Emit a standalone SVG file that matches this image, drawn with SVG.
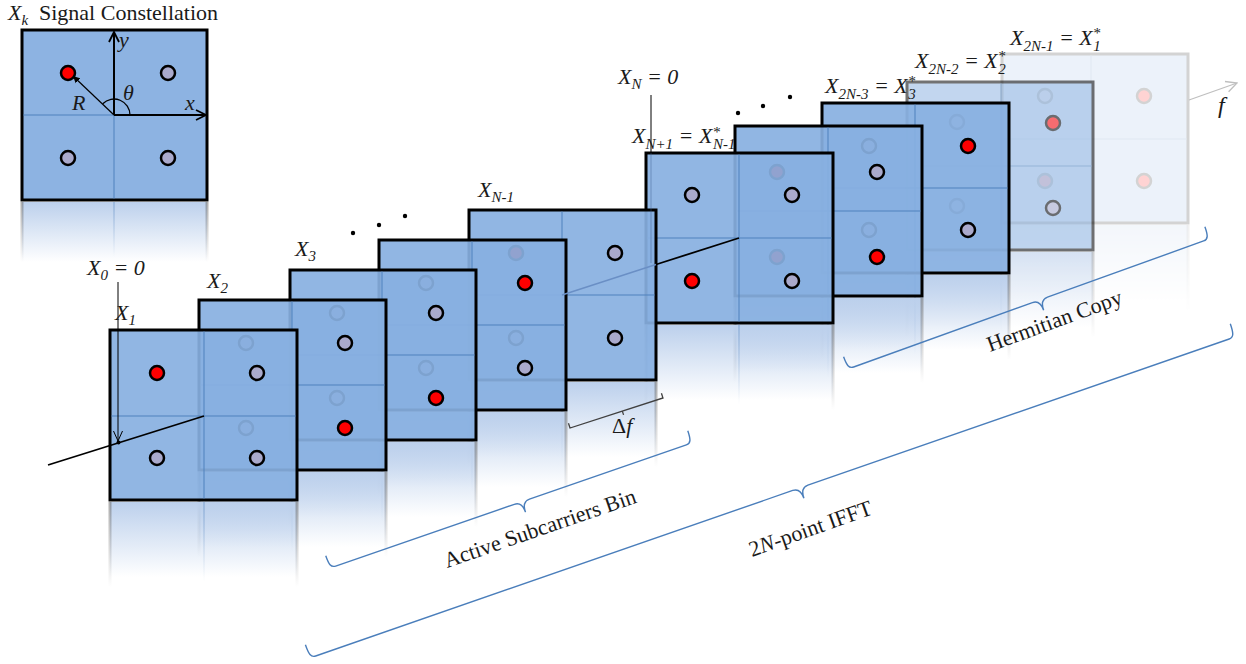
<svg xmlns="http://www.w3.org/2000/svg" width="1246" height="664" viewBox="0 0 1246 664">
<style>
.pf{fill:#88B0E1;fill-opacity:.92;stroke:#000;stroke-width:3}
.cf{fill:#8DB3E2;stroke:#000;stroke-width:3}
.dv{fill:none;stroke:#4F81BD;stroke-width:1}
.dr{fill:#FF0000;stroke:#000;stroke-width:2.5}
.dg{fill:#AAAACC;stroke:#000;stroke-width:2.5}
.rf{fill:url(#gR)}
.rl{fill:url(#gL)}
.rb{fill:url(#gB)}
.lbl{font-family:"Liberation Serif","Times New Roman",serif;font-size:22px;font-style:italic;fill:#1A1A1A}
.s{font-size:15px}
.up{font-style:normal}
.br{fill:none;stroke:#4A7EBB;stroke-width:1.4}
.ax{fill:none;stroke:#000}
</style>
<defs>
<linearGradient id="gR" x1="0" y1="0" x2="0" y2="1">
<stop offset="0" stop-color="#BCD0EC"/>
<stop offset="1" stop-color="#BCD0EC" stop-opacity="0"/>
</linearGradient>
<linearGradient id="gL" x1="0" y1="0" x2="0" y2="1">
<stop offset="0" stop-color="#777" stop-opacity=".6"/>
<stop offset="1" stop-color="#777" stop-opacity="0"/>
</linearGradient>
<linearGradient id="gB" x1="0" y1="0" x2="0" y2="1">
<stop offset="0" stop-color="#4F81BD" stop-opacity=".6"/>
<stop offset="1" stop-color="#4F81BD" stop-opacity="0"/>
</linearGradient>
<marker id="ahL" viewBox="0 0 12 12" refX="11" refY="6" markerWidth="12" markerHeight="12" markerUnits="userSpaceOnUse" orient="auto"><path d="M1,1 L11,6 L1,11" fill="none" stroke="#000" stroke-width="1.8"/></marker>
<marker id="ahT" viewBox="0 0 12 12" refX="11" refY="6" markerWidth="12" markerHeight="12" markerUnits="userSpaceOnUse" orient="auto"><path d="M1,1.5 L11,6 L1,10.5" fill="none" stroke="#000" stroke-width="1"/></marker>
<marker id="ahS" viewBox="0 0 8 8" refX="7" refY="4" markerWidth="8" markerHeight="8" markerUnits="userSpaceOnUse" orient="auto"><path d="M0,0.5 L7,4 L0,7.5 Z" fill="#000"/></marker>
<marker id="ahG" viewBox="0 0 12 12" refX="11" refY="6" markerWidth="13" markerHeight="13" markerUnits="userSpaceOnUse" orient="auto"><path d="M1,1 L11,6 L1,11" fill="none" stroke="#BFBFBF" stroke-width="1.2"/></marker>
</defs>

<rect width="1246" height="664" fill="#FFFFFF"/>

<g id="constellation" transform="translate(22,30)">
<rect class="rf" x="0" y="172" width="185" height="60"/>
<rect class="rl" x="-1.5" y="172" width="3" height="60"/>
<rect class="rl" x="183.5" y="172" width="3" height="60"/>
<rect class="rb" x="91.5" y="172" width="1" height="55"/>
<rect class="cf" width="185" height="170"/>
<path class="dv" d="M92,85V168.5M1.5,85H92"/>
<path class="ax" stroke-width="2" d="M92,85V2" marker-end="url(#ahL)"/>
<path class="ax" stroke-width="2" d="M92,85H184" marker-end="url(#ahL)"/>
<path class="ax" stroke-width="1.2" d="M92,85L51,46" marker-end="url(#ahS)"/>
<path class="ax" stroke-width="1.3" d="M108,85A16,16 0 0 0 80.7,73.7"/>
<circle class="dr" cx="46" cy="43" r="7"/>
<circle class="dg" cx="146" cy="43" r="7"/>
<circle class="dg" cx="46" cy="128" r="7"/>
<circle class="dg" cx="146" cy="128" r="7"/>
</g>

<g id="panels">
<g id="panel-x2n-1" transform="translate(1002,54)" opacity="0.17">
<rect class="rf" x="0" y="171" width="186" height="75"/>
<rect class="rl" x="-1.5" y="171" width="3" height="85"/>
<rect class="rl" x="184.5" y="171" width="3" height="85"/>
<rect class="rb" x="88.5" y="171" width="1" height="80"/>
<rect class="pf" width="186" height="169"/>
<path class="dv" d="M89,1.5V167.5M1.5,85H184.5"/>
<circle class="dg" cx="43" cy="42" r="7"/>
<circle class="dr" cx="142" cy="42" r="7"/>
<circle class="dr" cx="43" cy="127" r="7"/>
<circle class="dr" cx="142" cy="127" r="7"/>
</g>
<g id="panel-x2n-2" transform="translate(907,82)" opacity="0.55">
<rect class="rf" x="0" y="170" width="186" height="75"/>
<rect class="rl" x="-1.5" y="170" width="3" height="85"/>
<rect class="rl" x="184.5" y="170" width="3" height="85"/>
<rect class="rb" x="93.5" y="170" width="1" height="80"/>
<rect class="pf" width="186" height="168"/>
<path class="dv" d="M94,1.5V166.5M1.5,84H184.5"/>
<circle class="dg" cx="50" cy="40" r="7"/>
<circle class="dr" cx="146" cy="41" r="7"/>
<circle class="dg" cx="50" cy="124" r="7"/>
<circle class="dg" cx="146" cy="126" r="7"/>
</g>
<g id="panel-x2n-3" transform="translate(822,103)">
<rect class="rf" x="0" y="172" width="187" height="75"/>
<rect class="rl" x="-1.5" y="172" width="3" height="85"/>
<rect class="rl" x="185.5" y="172" width="3" height="85"/>
<rect class="rb" x="92.5" y="172" width="1" height="80"/>
<rect class="pf" width="187" height="170"/>
<path class="dv" d="M93,1.5V168.5M1.5,85H185.5"/>
<circle class="dg" cx="47" cy="43" r="7"/>
<circle class="dr" cx="146" cy="43" r="7"/>
<circle class="dg" cx="47" cy="127" r="7"/>
<circle class="dg" cx="146" cy="127" r="7"/>
</g>
<g id="panel-p7" transform="translate(735,126)">
<rect class="rf" x="0" y="172" width="187" height="75"/>
<rect class="rl" x="-1.5" y="172" width="3" height="85"/>
<rect class="rl" x="185.5" y="172" width="3" height="85"/>
<rect class="rb" x="92.5" y="172" width="1" height="80"/>
<rect class="pf" width="187" height="170"/>
<path class="dv" d="M93,1.5V168.5M1.5,85H185.5"/>
<circle class="dr" cx="42" cy="46" r="7"/>
<circle class="dg" cx="142" cy="46" r="7"/>
<circle class="dr" cx="42" cy="131" r="7"/>
<circle class="dr" cx="142" cy="131" r="7"/>
</g>
<g id="panel-xn+1" transform="translate(646,153)">
<rect class="rf" x="0" y="172" width="187" height="75"/>
<rect class="rl" x="-1.5" y="172" width="3" height="85"/>
<rect class="rl" x="185.5" y="172" width="3" height="85"/>
<rect class="rb" x="92.5" y="172" width="1" height="80"/>
<rect class="pf" width="187" height="170"/>
<path class="dv" d="M93,1.5V168.5M1.5,85H185.5"/>
<circle class="dg" cx="46" cy="42" r="7"/>
<circle class="dg" cx="146" cy="42" r="7"/>
<circle class="dr" cx="46" cy="128" r="7"/>
<circle class="dg" cx="146" cy="128" r="7"/>
</g>
<g id="panel-xn-1" transform="translate(469,210)">
<rect class="rf" x="0" y="172" width="187" height="75"/>
<rect class="rl" x="-1.5" y="172" width="3" height="85"/>
<rect class="rl" x="185.5" y="172" width="3" height="85"/>
<rect class="rb" x="92.5" y="172" width="1" height="80"/>
<rect class="pf" width="187" height="170"/>
<path class="dv" d="M93,1.5V168.5M1.5,85H185.5"/>
<circle class="dr" cx="47" cy="43" r="7"/>
<circle class="dg" cx="146" cy="43" r="7"/>
<circle class="dg" cx="47" cy="128" r="7"/>
<circle class="dg" cx="146" cy="128" r="7"/>
</g>
<g id="panel-p4" transform="translate(379,240)">
<rect class="rf" x="0" y="172" width="187" height="75"/>
<rect class="rl" x="-1.5" y="172" width="3" height="85"/>
<rect class="rl" x="185.5" y="172" width="3" height="85"/>
<rect class="rb" x="92.5" y="172" width="1" height="80"/>
<rect class="pf" width="187" height="170"/>
<path class="dv" d="M93,1.5V168.5M1.5,85H185.5"/>
<circle class="dg" cx="47" cy="43" r="7"/>
<circle class="dr" cx="146" cy="43" r="7"/>
<circle class="dg" cx="47" cy="128" r="7"/>
<circle class="dg" cx="146" cy="128" r="7"/>
</g>
<g id="panel-x3" transform="translate(290,270)">
<rect class="rf" x="0" y="172" width="186" height="75"/>
<rect class="rl" x="-1.5" y="172" width="3" height="85"/>
<rect class="rl" x="184.5" y="172" width="3" height="85"/>
<rect class="rb" x="91.5" y="172" width="1" height="80"/>
<rect class="pf" width="186" height="170"/>
<path class="dv" d="M92,1.5V168.5M1.5,85H184.5"/>
<circle class="dg" cx="47" cy="43" r="7"/>
<circle class="dg" cx="146" cy="43" r="7"/>
<circle class="dg" cx="47" cy="128" r="7"/>
<circle class="dr" cx="146" cy="128" r="7"/>
</g>
<g id="panel-x2" transform="translate(199,300)">
<rect class="rf" x="0" y="172" width="187" height="75"/>
<rect class="rl" x="-1.5" y="172" width="3" height="85"/>
<rect class="rl" x="185.5" y="172" width="3" height="85"/>
<rect class="rb" x="92.5" y="172" width="1" height="80"/>
<rect class="pf" width="187" height="170"/>
<path class="dv" d="M93,1.5V168.5M1.5,85H185.5"/>
<circle class="dg" cx="47" cy="43" r="7"/>
<circle class="dg" cx="146" cy="43" r="7"/>
<circle class="dg" cx="47" cy="128" r="7"/>
<circle class="dr" cx="146" cy="128" r="7"/>
</g>
<g id="panel-x1" transform="translate(110,330)">
<rect class="rf" x="0" y="172" width="187" height="75"/>
<rect class="rl" x="-1.5" y="172" width="3" height="85"/>
<rect class="rl" x="185.5" y="172" width="3" height="85"/>
<rect class="rb" x="93.5" y="172" width="1" height="80"/>
<rect class="pf" width="187" height="170"/>
<path class="dv" d="M94,1.5V168.5M1.5,86H185.5"/>
<circle class="dr" cx="47" cy="43" r="7"/>
<circle class="dg" cx="147" cy="43" r="7"/>
<circle class="dg" cx="47" cy="128" r="7"/>
<circle class="dg" cx="147" cy="128" r="7"/>
</g>
</g>

<g id="connectors">
<path class="ax" stroke-width="1.8" d="M48,465L204,416"/>
<path fill="none" stroke="#6A8FC5" stroke-width="1.4" d="M562,295L656,264.5"/>
<path class="ax" stroke-width="1.8" d="M656,264.5L739,238"/>
<path class="ax" stroke-width="1" d="M118,282V441" marker-end="url(#ahT)"/>
<circle cx="118.5" cy="442.5" r="2" fill="#000"/>
<path class="ax" stroke-width="1" d="M651,95V153"/>
<path fill="none" stroke="#3E5F8F" stroke-opacity=".45" stroke-width="1" d="M651,153V263"/>
<path fill="none" stroke="#BFBFBF" stroke-width="1.2" d="M1189,100L1237,83" marker-end="url(#ahG)"/>
<g fill="#000">
<circle cx="353" cy="233" r="2.2"/><circle cx="379" cy="225" r="2.2"/><circle cx="405" cy="216" r="2.2"/>
<circle cx="738" cy="113" r="2.2"/><circle cx="763" cy="106" r="2.2"/><circle cx="790" cy="97" r="2.2"/>
</g>
<path fill="none" stroke="#404040" stroke-width="1.3" transform="translate(570,428) rotate(-17.9)" d="M0,-5V0H97.7V-5M55,0V4"/>
<path class="br" transform="translate(330,568) rotate(-19.05)" d="M0,-13C0,-4 1,0 6,0H195Q203,0 203,11Q203,0 211,0H377C382,0 383,-4 383,-13"/>
<path class="br" transform="translate(848,369) rotate(-19.8)" d="M0,-13C0,-4 1,0 6,0H196Q204,0 204,11Q204,0 212,0H378C383,0 384,-4 384,-13"/>
<path class="br" transform="translate(310,658) rotate(-19.14)" d="M0,-14C0,-4 1,0 6,0H511Q519,0 519,11Q519,0 527,0H973C978,0 979,-4 979,-14"/>
</g>

<g id="labels">
<text class="lbl" x="8" y="20">X<tspan class="s" dy="5">k</tspan></text>
<text class="lbl up" x="39" y="20">Signal Constellation</text>
<text class="lbl" x="119" y="47">y</text>
<text class="lbl" x="185" y="110">x</text>
<text class="lbl" x="72" y="110">R</text>
<text class="lbl" x="123" y="100">θ</text>
<text class="lbl" x="87" y="275">X<tspan class="s" dy="5">0</tspan><tspan dy="-5"> = 0</tspan></text>
<text class="lbl" x="115" y="320">X<tspan class="s" dy="5">1</tspan></text>
<text class="lbl" x="207" y="288">X<tspan class="s" dy="5">2</tspan></text>
<text class="lbl" x="295" y="256">X<tspan class="s" dy="5">3</tspan></text>
<text class="lbl" x="478" y="197">X<tspan class="s" dy="5">N-1</tspan></text>
<text class="lbl" x="618" y="84">X<tspan class="s" dy="5">N</tspan><tspan dy="-5"> = 0</tspan></text>
<text class="lbl" x="632" y="143">X<tspan class="s" dy="6">N+1</tspan><tspan dy="-6"> = X</tspan><tspan class="s" dy="-6">*</tspan><tspan class="s" dx="-7" dy="12">N-1</tspan></text>
<text class="lbl" x="825" y="93">X<tspan class="s" dy="6">2N-3</tspan><tspan dy="-6"> = X</tspan><tspan class="s" dy="-7">*</tspan><tspan class="s" dx="-7" dy="13">3</tspan></text>
<text class="lbl" x="915" y="68">X<tspan class="s" dy="6">2N-2</tspan><tspan dy="-6"> =  X</tspan><tspan class="s" dy="-7">*</tspan><tspan class="s" dx="-7" dy="13">2</tspan></text>
<text class="lbl" x="1010" y="45">X<tspan class="s" dy="6">2N-1</tspan><tspan dy="-6"> = X</tspan><tspan class="s" dy="-7">*</tspan><tspan class="s" dx="-7" dy="13">1</tspan></text>
<text class="lbl" x="1218" y="113" style="font-size:24px">f</text>
<text class="lbl" x="612" y="433"><tspan class="up">Δ</tspan>f</text>
<text class="lbl up" transform="translate(447,568) rotate(-19)">Active Subcarriers Bin</text>
<text class="lbl up" transform="translate(990,352) rotate(-20)">Hermitian Copy</text>
<text class="lbl up" transform="translate(752,557) rotate(-19.5)">2<tspan style="font-style:italic">N</tspan>-point IFFT</text>
</g>
</svg>
